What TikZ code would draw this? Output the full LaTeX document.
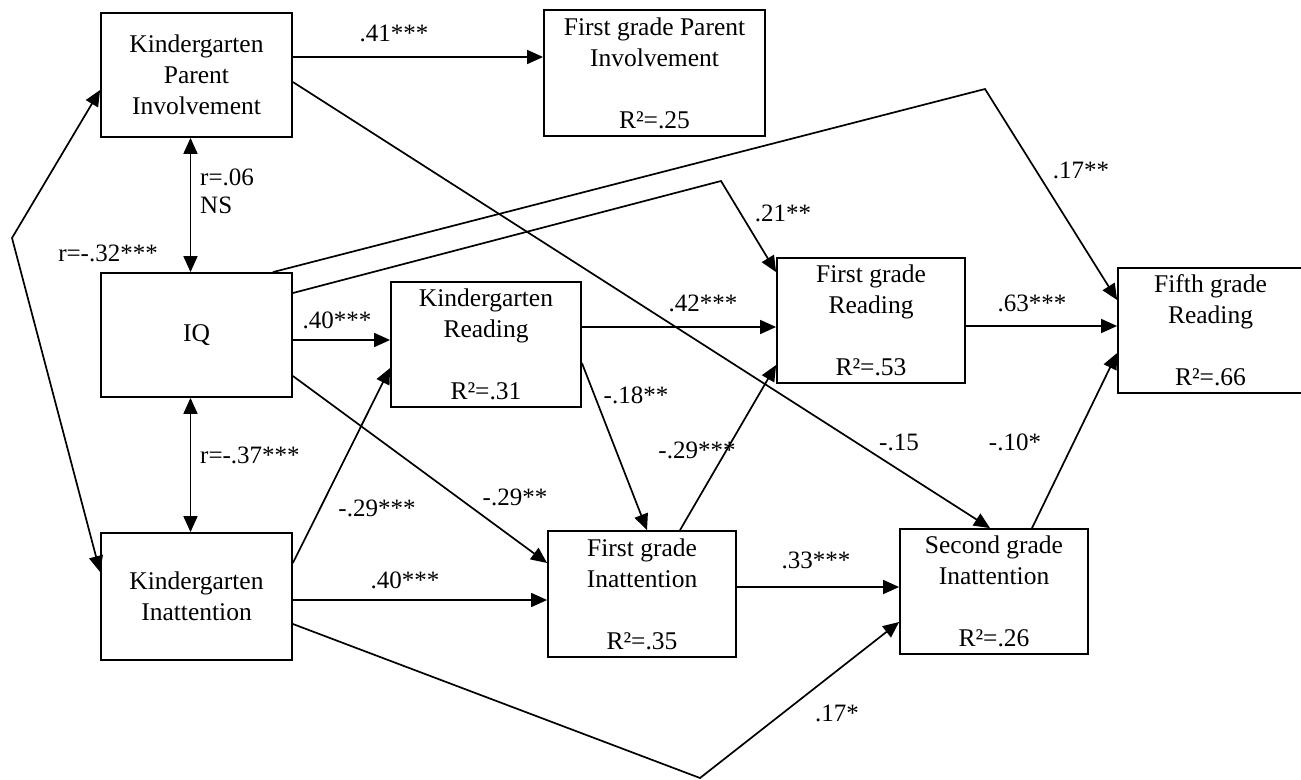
\documentclass[tikz,border=0pt]{standalone}
\usepackage{fontspec}
\setmainfont{Liberation Serif}
\usetikzlibrary{arrows.meta}
\begin{document}
\begin{tikzpicture}[x=1pt,y=-1pt,
  box/.style={draw,line width=1.8pt,rectangle,inner sep=0pt,align=center,font=\fontsize{25.5}{31}\selectfont},
  lab/.style={font=\fontsize{25}{28}\selectfont,inner sep=0pt},
  conn/.style={line width=1.7pt,-{Triangle[length=16pt,width=14pt]}},
  dconn/.style={line width=1.7pt,{Triangle[length=16pt,width=14pt]}-{Triangle[length=16pt,width=14pt]}},
  plain/.style={line width=1.7pt}]
\useasboundingbox (0,0) rectangle (1301,779);
% boxes
\node[box,minimum width=191pt,minimum height=124pt] (KPI) at (196.5,75) {Kindergarten\\Parent\\Involvement};
\node[box,minimum width=221pt,minimum height=126pt] (FPI) at (654.5,73) {First grade Parent\\Involvement\\[31pt]R²=.25};
\node[box,minimum width=191pt,minimum height=124pt] (IQ) at (196.5,335) {IQ};
\node[box,minimum width=190pt,minimum height=125pt] (KR) at (486,344.5) {Kindergarten\\Reading\\[31pt]R²=.31};
\node[box,minimum width=188pt,minimum height=125pt] (FR) at (871,320.5) {First grade\\Reading\\[31pt]R²=.53};
\node[box,minimum width=185pt,minimum height=125pt] (FIF) at (1210.5,330.5) {Fifth grade\\Reading\\[31pt]R²=.66};
\node[box,minimum width=191pt,minimum height=127pt] (KIN) at (196.5,596.5) {Kindergarten\\Inattention};
\node[box,minimum width=188pt,minimum height=126pt] (FGI) at (642,594) {First grade\\Inattention\\[31pt]R²=.35};
\node[box,minimum width=188pt,minimum height=125pt] (SGI) at (994,591.5) {Second grade\\Inattention\\[31pt]R²=.26};
% bend points
\coordinate (cL) at (12,238);
\coordinate (cT) at (985,89);
\coordinate (cM) at (721,181);
\coordinate (cB) at (700,778);
% connectors
\draw[conn] ([yshift=18pt]KPI.east) -- ([yshift=16pt]FPI.west);
\draw[conn] ([yshift=-7pt]KPI.east) -- ([xshift=-4pt]SGI.north);
\draw[dconn] ([xshift=-6pt]KPI.south) -- ([xshift=-6pt]IQ.north);
\draw[dconn] ([xshift=-6pt]IQ.south) -- ([xshift=-6pt]KIN.north);
\draw[dconn] ([yshift=-15pt]KPI.west) -- (cL) -- ([yshift=24.5pt]KIN.west);
\draw[conn] ([xshift=-20pt]IQ.north east) -- (cT) -- ([yshift=30.5pt]FIF.west);
\draw[conn] ([yshift=42pt]IQ.east) -- (cM) -- ([yshift=-15pt]FR.north west);
\draw[conn] ([yshift=-5pt]IQ.east) -- ([yshift=4.5pt]KR.west);
\draw[conn] ([yshift=-41pt]IQ.east) -- ([yshift=31pt]FGI.west);
\draw[conn] ([yshift=33.5pt]KIN.east) -- ([yshift=-23.5pt]KR.west);
\draw[conn] ([yshift=-3.5pt]KIN.east) -- ([yshift=-6pt]FGI.west);
\draw[conn] ([yshift=-27.5pt]KIN.east) -- (cB) -- ([yshift=-30.5pt]SGI.west);
\draw[conn] ([yshift=17.5pt]KR.east) -- ([yshift=-6.5pt]FR.west);
\draw[conn] ([yshift=-18.5pt]KR.east) -- ([xshift=5pt]FGI.north);
\draw[conn] ([xshift=38pt]FGI.north) -- ([yshift=-44.5pt]FR.west);
\draw[conn] ([yshift=7pt]FGI.east) -- ([yshift=4.5pt]SGI.west);
\draw[conn] ([yshift=-5.5pt]FR.east) -- ([yshift=4.5pt]FIF.west);
\draw[conn] ([xshift=38pt]SGI.north) -- ([yshift=-22.5pt]FIF.west);
% labels
\node[lab] (l1) at (394,33) {.41***};
\node[lab,anchor=west,align=left] (l2) at (200,191) {r=.06\\NS};
\node[lab] (l3) at (108,253) {r=-.32***};
\node[lab,anchor=west] (l4) at (200,455) {r=-.37***};
\node[lab] (l5) at (337,320) {.40***};
\node[lab] (l6) at (377,508) {-.29***};
\node[lab] (l7) at (405,580) {.40***};
\node[lab] (l8) at (515,497) {-.29**};
\node[lab] (l9) at (703,303) {.42***};
\node[lab] (l10) at (636,395) {-.18**};
\node[lab] (l11) at (697,450) {-.29***};
\node[lab] (l12) at (816,560) {.33***};
\node[lab] (l13) at (783,213) {.21**};
\node[lab] (l14) at (1081,170) {.17**};
\node[lab] (l15) at (1032,303) {.63***};
\node[lab] (l16) at (899,442) {-.15};
\node[lab] (l17) at (1015,442) {-.10*};
\node[lab] (l18) at (837,713) {.17*};
\end{tikzpicture}
\end{document}
